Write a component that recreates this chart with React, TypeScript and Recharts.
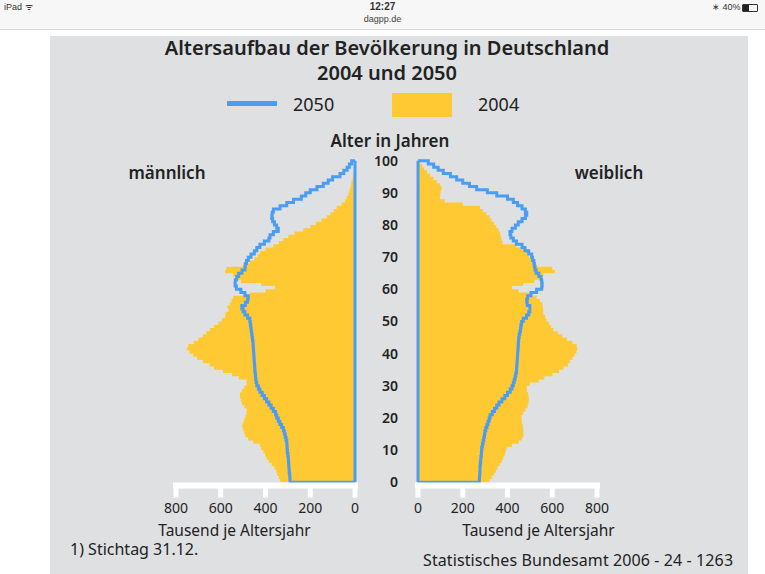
import React from 'react'
import {
  Area,
  ComposedChart,
  Line,
  ReferenceLine,
  XAxis,
  YAxis,
} from 'recharts'

// Altersjahre 0..99
const ages = Array.from({ length: 100 }, (_, i) => i)

// Tausend je Altersjahr
const male2004 = [
  335, 340, 348, 352, 360, 372, 385, 395, 402, 410,
  420, 425, 455, 478, 490, 495, 500, 506, 500, 495,
  490, 485, 484, 495, 505, 510, 514, 514, 505, 495,
  484, 484, 520, 550, 590, 630, 650, 680, 705, 723,
  740, 752, 745, 720, 700, 680, 665, 648, 630, 610,
  595, 581, 578, 565, 570, 560, 552, 545, 470, 400,
  357, 420, 510, 530, 545, 581, 575, 500, 470, 450,
  435, 425, 400, 365, 340, 320, 298, 270, 231, 200,
  175, 150, 127, 110, 95, 82, 60, 45, 37, 30,
  25, 22, 18, 15, 10, 7, 5, 3, 2, 1,
]

const male2050 = [
  290, 291, 292, 294, 295, 296, 297, 298, 300, 302,
  303, 304, 305, 308, 312, 316, 320, 328, 336, 343,
  350, 355, 365, 375, 385, 395, 405, 415, 425, 432,
  439, 442, 444, 445, 447, 448, 449, 450, 451, 452,
  453, 454, 455, 456, 458, 460, 462, 464, 466, 468,
  470, 480, 492, 500, 506, 490, 480, 477, 492, 510,
  530, 536, 535, 529, 520, 505, 492, 490, 485, 477,
  465, 450, 439, 425, 405, 385, 380, 365, 343, 350,
  360, 368, 372, 370, 365, 335, 305, 275, 240, 220,
  200, 170, 142, 120, 100, 67, 50, 35, 25, 15,
]

const female2004 = [
  320, 330, 340, 348, 355, 365, 375, 381, 388, 392,
  396, 420, 450, 465, 471, 471, 470, 468, 465, 463,
  463, 470, 480, 490, 493, 495, 495, 492, 486, 486,
  500, 540, 565, 600, 630, 650, 670, 679, 690, 700,
  708, 712, 709, 690, 665, 645, 625, 605, 595, 585,
  575, 568, 560, 560, 558, 555, 545, 530, 510, 450,
  420, 470, 520, 545, 560, 612, 600, 530, 515, 505,
  495, 490, 486, 440, 378, 374, 370, 366, 360, 350,
  340, 329, 320, 305, 290, 277, 200, 120, 98, 100,
  102, 106, 100, 85, 70, 54, 40, 28, 18, 10,
]

const female2050 = [
  274, 275, 276, 277, 277, 278, 280, 281, 283, 284,
  285, 288, 291, 294, 297, 299, 303, 308, 313, 318,
  322, 332, 342, 352, 362, 375, 388, 400, 412, 420,
  426, 430, 434, 437, 440, 441, 442, 443, 444, 445,
  446, 447, 448, 449, 450, 452, 455, 458, 460, 463,
  470, 485, 495, 500, 500, 488, 486, 490, 505, 530,
  553, 555, 553, 550, 540, 528, 523, 520, 518, 512,
  508, 495, 478, 465, 440, 426, 415, 411, 420, 435,
  448, 465, 480, 486, 480, 465, 445, 426, 400, 352,
  310, 262, 230, 200, 173, 145, 113, 90, 70, 46,
]

const valueTicks = [0, 200, 400, 600, 800]
const ageTicks = [0, 10, 20, 30, 40, 50, 60, 70, 80, 90, 100]

const YELLOW = '#ffc933'
const BLUE = '#4b9cf3'
const FONT = '"Noto Sans", "Open Sans", sans-serif'

// Treppenzeilen: jedes Altersjahr bekommt Unter- und Oberkante
function buildSteps(v2004: number[], v2050: number[]) {
  const rows = [{ age: 0, y2004: 0, y2050: 0 }]
  ages.forEach((a, i) => {
    rows.push({ age: a, y2004: v2004[i], y2050: v2050[i] })
    rows.push({ age: a + 1, y2004: v2004[i], y2050: v2050[i] })
  })
  rows.push({ age: 100, y2004: 0, y2050: 0 })
  return rows
}

const maleRows = buildSteps(male2004, male2050)
const femaleRows = buildSteps(female2004, female2050)

const axisProps = {
  type: 'number' as const,
  domain: [0, 800],
  ticks: valueTicks,
  height: 54.5,
  axisLine: { stroke: '#fff', strokeWidth: 6, strokeLinecap: 'square' as const },
  tickLine: { stroke: '#fff', strokeWidth: 5 },
  tickSize: 12,
  tickMargin: 6,
  tick: { fill: '#222', fontSize: 14, fontFamily: FONT },
  interval: 0 as const,
}

function Pyramid({ rows, side }: { rows: any[]; side: 'left' | 'right' }) {
  const isLeft = side === 'left'
  return (
    <ComposedChart
      layout="vertical"
      width={isLeft ? 215 : 252}
      height={390}
      data={rows}
      margin={{ top: 10.7, right: isLeft ? 11 : 25, bottom: 0, left: isLeft ? 25 : 0 }}
    >
      <XAxis
        {...axisProps}
        dataKey="y2004"
        reversed={isLeft}
        label={{
          value: 'Tausend je Altersjahr',
          position: 'insideBottom',
          dx: isLeft ? -31 : 31,
          offset: 4,
          fill: '#222',
          fontSize: 15.5,
          fontFamily: FONT,
        }}
      />
      <YAxis
        type="number"
        dataKey="age"
        domain={[-1, 100]}
        ticks={ageTicks}
        reversed
        hide={isLeft}
        width={48}
        axisLine={false}
        tickLine={false}
        tickSize={8}
        tickMargin={12}
        interval={0}
        tick={{ fill: '#222', fontSize: 14, fontWeight: 600, fontFamily: FONT }}
      />
      <Area
        type="linear"
        dataKey="y2004"
        stroke="none"
        fill={YELLOW}
        fillOpacity={1}
        isAnimationActive={false}
      />
      <ReferenceLine
        segment={[{ x: 0, y: 0 }, { x: 0, y: 100 }]}
        stroke={BLUE}
        strokeWidth={3}
      />
      <Line
        type="linear"
        dataKey="y2050"
        stroke={BLUE}
        strokeWidth={3}
        dot={false}
        isAnimationActive={false}
      />
    </ComposedChart>
  )
}

const text = (style: React.CSSProperties): React.CSSProperties => ({
  position: 'absolute',
  fontFamily: FONT,
  color: '#222',
  whiteSpace: 'nowrap',
  lineHeight: 1,
  ...style,
})

export default function App() {
  return (
    <div style={{ position: 'absolute', left: 0, top: 0, width: 765, height: 574, background: '#fff', overflow: 'hidden' }}>
      {/* Statusleiste */}
      <div style={{ position: 'absolute', left: 0, top: 0, width: 765, height: 29, background: '#f7f7f7', borderBottom: '1px solid #d8d8d8' }} />
      <div style={text({ left: 4, top: 3, fontSize: 9, color: '#333', fontFamily: 'Arial, sans-serif' })}>iPad ᯤ</div>
      <div style={text({ left: 0, width: 765, textAlign: 'center', top: 2, fontSize: 10, fontWeight: 700, color: '#333', fontFamily: 'Arial, sans-serif' })}>12:27</div>
      <div style={text({ left: 0, width: 765, textAlign: 'center', top: 15, fontSize: 9, color: '#444', fontFamily: 'Arial, sans-serif' })}>dagpp.de</div>
      <div style={text({ left: 712, top: 3, fontSize: 9, color: '#333', fontFamily: 'Arial, sans-serif' })}>∗ 40%</div>
      <div style={{ position: 'absolute', left: 742, top: 4, width: 14, height: 6, border: '1px solid #333', borderRadius: 1 }}>
        <div style={{ width: 6, height: 6, background: '#222' }} />
      </div>

      {/* Grafik */}
      <div style={{ position: 'absolute', left: 50, top: 36, width: 698, height: 538, background: '#dfe0e2' }} />

      <div style={text({ left: 137, width: 500, textAlign: 'center', top: 38, fontSize: 20, fontWeight: 600 })}>
        Altersaufbau der Bevölkerung in Deutschland
      </div>
      <div style={text({ left: 137, width: 500, textAlign: 'center', top: 63, fontSize: 20, fontWeight: 600 })}>
        2004 und 2050
      </div>

      <div style={{ position: 'absolute', left: 227, top: 101, width: 50, height: 5, background: BLUE }} />
      <div style={text({ left: 293, top: 95, fontSize: 18 })}>2050</div>
      <div style={{ position: 'absolute', left: 392, top: 93, width: 60, height: 24, background: YELLOW }} />
      <div style={text({ left: 478, top: 95, fontSize: 18 })}>2004</div>

      <div style={text({ left: 240, width: 300, textAlign: 'center', top: 132, fontSize: 17, fontWeight: 600 })}>Alter in Jahren</div>
      <div style={text({ left: 117, width: 100, textAlign: 'center', top: 164, fontSize: 17, fontWeight: 600 })}>männlich</div>
      <div style={text({ left: 559, width: 100, textAlign: 'center', top: 164, fontSize: 17, fontWeight: 600 })}>weiblich</div>

      <div style={{ position: 'absolute', left: 151, top: 150 }}>
        <Pyramid rows={maleRows} side="left" />
      </div>
      <div style={{ position: 'absolute', left: 370, top: 150 }}>
        <Pyramid rows={femaleRows} side="right" />
      </div>

      <div style={text({ left: 70, top: 541, fontSize: 16 })}>1) Stichtag 31.12.</div>
      <div style={text({ left: 423, top: 552, fontSize: 16, letterSpacing: 0.1 })}>Statistisches Bundesamt 2006 - 24 - 1263</div>
    </div>
  )
}
